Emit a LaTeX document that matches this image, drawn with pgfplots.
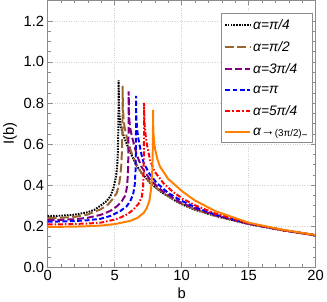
\documentclass[border=0pt]{standalone}
\usepackage{fontspec}
\setmainfont{Liberation Sans}
\usepackage{pgfplots}
\pgfplotsset{compat=1.18}
\definecolor{mbrown}{rgb}{0.6,0.4,0.2}
\definecolor{mpurple}{rgb}{0.5,0,0.5}
\definecolor{morange}{rgb}{1,0.5,0}
\definecolor{framegray}{rgb}{0.55,0.55,0.55}
\begin{document}
\begin{tikzpicture}
\begin{axis}[
  scale only axis, width=272bp, height=271bp,
  xmin=0, xmax=20, ymin=0, ymax=1.3,
  xtick={0,5,10,15,20}, ytick={0,0.2,0.4,0.6,0.8,1.0,1.2},
  minor x tick num=4, minor y tick num=3,
  tick align=inside, major tick length=5bp, minor tick length=3bp,
  axis line style={framegray}, every tick/.style={framegray},
  grid=major, grid style={dotted, black!18, line width=0.7bp},
  tick label style={font=\fontsize{15}{18}\selectfont},
  label style={font=\fontsize{15}{18}\selectfont},
  /pgf/number format/assume math mode=true,
  yticklabel style={/pgf/number format/.cd,fixed,fixed zerofill,precision=1},
  xlabel={b}, ylabel={I(b)},
  legend style={at={(0.989,0.952)}, anchor=north east, draw=framegray,
    font=\fontsize{14}{16}\selectfont, row sep=7bp, inner xsep=3bp, inner ysep=4bp},
  legend cell align=left,
  legend image code/.code={\draw[#1] (0cm,0cm) -- (0.9cm,0cm);},
]
\addplot[black, line width=2bp, dash pattern=on 1.6bp off 1.2bp] coordinates {
(0,0.250)(1,0.251)(2,0.256)(3,0.268)(3.5,0.28)(3.95,0.30)(4.4,0.322)(4.69,0.346)(4.93,0.39)(5.1,0.44)(5.19,0.49)(5.24,0.56)(5.27,0.65)(5.29,0.76)(5.3,0.91)(5.32,0.80)(5.36,0.74)(5.43,0.70)(5.5,0.675)(5.67,0.64)(6.0,0.585)(6.17,0.56)(6.64,0.495)(7.0,0.46)(7.65,0.41)(8.5,0.365)(9.63,0.32)(10,0.307)(11,0.28)(12.5,0.25)(15,0.21)(17.5,0.18)(20,0.155)};
\addlegendentry{\itshape α=π/4}
\addplot[mbrown, line width=2bp, dash pattern=on 9bp off 3.5bp] coordinates {
(0,0.240)(1,0.241)(2,0.245)(3,0.257)(3.95,0.282)(4.5,0.305)(4.93,0.338)(5.15,0.36)(5.3,0.394)(5.42,0.44)(5.5,0.5)(5.55,0.57)(5.58,0.67)(5.595,0.76)(5.6,0.883)(5.62,0.78)(5.67,0.72)(5.75,0.68)(5.85,0.65)(6.0,0.61)(6.3,0.55)(6.64,0.50)(7.0,0.46)(7.65,0.412)(8.5,0.367)(9.6,0.322)(10,0.309)(11,0.282)(12.5,0.251)(15,0.211)(17.5,0.181)(20,0.156)};
\addlegendentry{\itshape α=π/2}
\addplot[mpurple, line width=2bp, dash pattern=on 7bp off 3bp] coordinates {
(0,0.230)(1,0.231)(2,0.234)(3,0.241)(3.95,0.255)(4.7,0.275)(5.19,0.298)(5.5,0.318)(5.8,0.35)(5.92,0.39)(5.99,0.45)(6.02,0.53)(6.04,0.65)(6.05,0.856)(6.07,0.76)(6.12,0.70)(6.2,0.665)(6.3,0.635)(6.64,0.55)(7.0,0.49)(7.65,0.426)(8.5,0.375)(9.6,0.327)(10,0.313)(11,0.287)(12.5,0.254)(15,0.212)(17.5,0.181)(20,0.156)};
\addlegendentry{\itshape α=3π/4}
\addplot[blue, line width=2bp, dash pattern=on 5bp off 2.5bp] coordinates {
(0,0.222)(1,0.223)(2,0.225)(3,0.229)(3.95,0.236)(4.69,0.25)(5.43,0.274)(5.9,0.297)(6.17,0.322)(6.38,0.355)(6.5,0.40)(6.56,0.47)(6.585,0.57)(6.597,0.68)(6.6,0.835)(6.62,0.73)(6.69,0.665)(6.79,0.62)(7.0,0.55)(7.16,0.51)(7.6,0.455)(8.15,0.41)(9,0.362)(9.9,0.327)(11,0.293)(12.5,0.257)(15,0.213)(17.5,0.182)(20,0.156)};
\addlegendentry{\itshape α=π}
\addplot[red, line width=2bp, dash pattern=on 5bp off 2bp on 1.5bp off 2bp] coordinates {
(0,0.209)(1,0.209)(2,0.211)(3,0.213)(3.95,0.217)(5,0.232)(5.43,0.242)(6,0.26)(6.42,0.282)(6.8,0.31)(7.04,0.346)(7.12,0.39)(7.16,0.46)(7.185,0.57)(7.197,0.67)(7.2,0.80)(7.22,0.71)(7.3,0.65)(7.41,0.60)(7.65,0.52)(8.0,0.465)(8.64,0.41)(9.3,0.37)(10.1,0.333)(11,0.302)(12.5,0.262)(15,0.214)(17.5,0.182)(20,0.156)};
\addlegendentry{\itshape α=5π/4}
\addplot[morange, line width=2bp] coordinates {
(0,0.197)(1,0.197)(2,0.198)(3,0.2)(3.95,0.203)(5,0.21)(6.17,0.226)(6.7,0.24)(7.16,0.264)(7.4,0.288)(7.6,0.325)(7.72,0.38)(7.8,0.45)(7.84,0.54)(7.862,0.64)(7.87,0.766)(7.89,0.66)(7.95,0.61)(8.02,0.575)(8.2,0.525)(8.39,0.49)(9.0,0.43)(9.63,0.394)(10,0.372)(11,0.325)(12.5,0.274)(15,0.217)(17.5,0.183)(20,0.157)};
\addlegendentry{{\itshape α→}\raisebox{-1.5bp}{\fontsize{10}{12}\selectfont (3π/2)}\raisebox{-3.5bp}{\fontsize{10}{12}\selectfont −}}
\end{axis}
\end{tikzpicture}
\end{document}
